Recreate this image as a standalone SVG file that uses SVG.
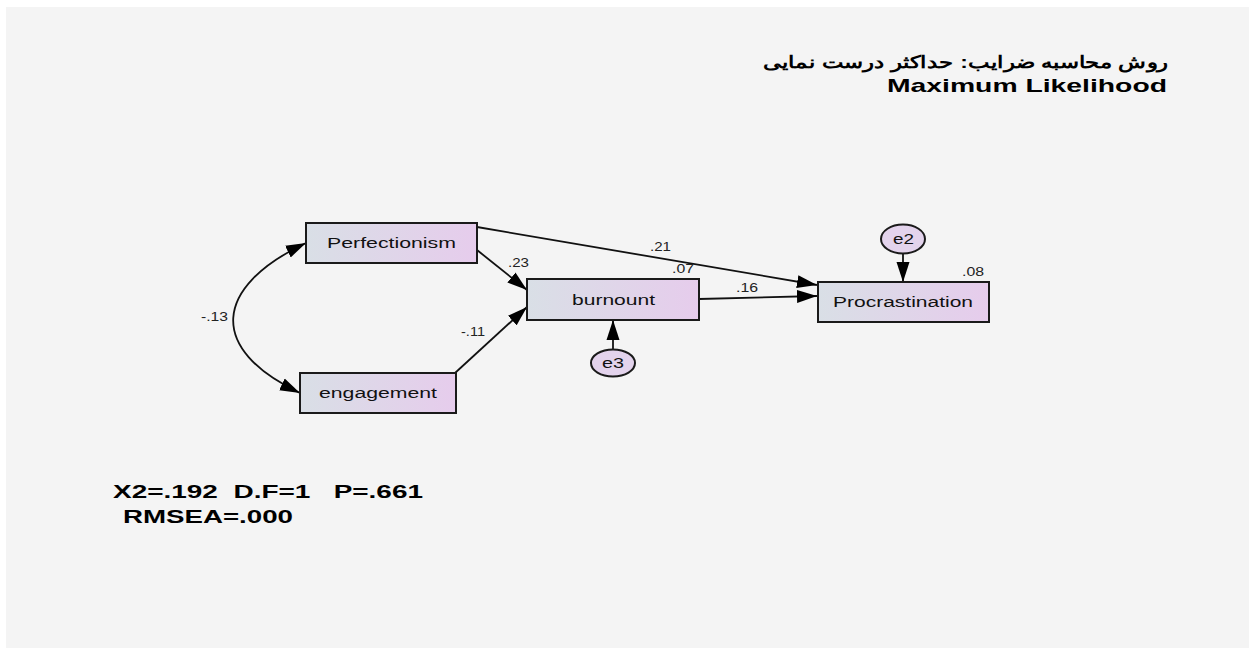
<svg xmlns="http://www.w3.org/2000/svg" width="1249" height="648" viewBox="0 0 1249 648">
<style>
.node{stroke:#1a1a1a;stroke-width:2;fill:url(#g)}
.err{stroke:#1a1a1a;stroke-width:2;fill:#e3d3ec}
.nt{font-family:"Liberation Sans",Arial,sans-serif;font-size:15.5px;fill:#111}
.lb{font-family:"Liberation Sans",Arial,sans-serif;font-size:12px;fill:#222}
.ed{stroke:#111;stroke-width:1.8;fill:none}
.bold{font-family:"Liberation Sans",Arial,sans-serif;font-weight:bold;fill:#000}
</style>
<defs>
<linearGradient id="g" x1="0" y1="0" x2="1" y2="0">
<stop offset="0" stop-color="#d9dfe6"/>
<stop offset="1" stop-color="#e6ccec"/>
</linearGradient>
<marker id="ah" markerUnits="userSpaceOnUse" markerWidth="21" markerHeight="14" refX="20" refY="7" orient="auto-start-reverse">
<path d="M0,0.5 L20,7 L0,13.5 z" fill="#000"/>
</marker>
</defs>
<rect x="0" y="0" width="1249" height="648" fill="#ffffff"/>
<rect x="6" y="7" width="1243" height="641" fill="#f4f4f4"/>

<text class="bold" x="763" y="68" font-size="17" font-family="'DejaVu Sans',sans-serif" textLength="405" lengthAdjust="spacingAndGlyphs">روش محاسبه ضرایب: حداکثر درست نمایی</text>
<text class="bold" x="887" y="92" font-size="19" textLength="280" lengthAdjust="spacingAndGlyphs">Maximum Likelihood</text>

<g id="connectors">
<path class="ed" d="M306,243 C213,287 207,349 300,393" marker-start="url(#ah)" marker-end="url(#ah)"/>
<line class="ed" x1="477" y1="227" x2="817" y2="285" marker-end="url(#ah)"/>
<line class="ed" x1="477" y1="250" x2="527" y2="290" marker-end="url(#ah)"/>
<line class="ed" x1="455" y1="373" x2="527" y2="307" marker-end="url(#ah)"/>
<line class="ed" x1="699" y1="299" x2="817" y2="296" marker-end="url(#ah)"/>
<line class="ed" x1="903" y1="253" x2="903" y2="282" marker-end="url(#ah)"/>
<line class="ed" x1="613" y1="350" x2="613" y2="320" marker-end="url(#ah)"/>
<text class="lb" x="650" y="251" textLength="21" lengthAdjust="spacingAndGlyphs">.21</text>
<text class="lb" x="508" y="267" textLength="21" lengthAdjust="spacingAndGlyphs">.23</text>
<text class="lb" x="461" y="336" textLength="24" lengthAdjust="spacingAndGlyphs">-.11</text>
<text class="lb" x="201" y="321" textLength="27" lengthAdjust="spacingAndGlyphs">-.13</text>
<text class="lb" x="736" y="292" textLength="22" lengthAdjust="spacingAndGlyphs">.16</text>
</g>

<g id="Perfectionism">
<rect class="node" x="306" y="223" width="171" height="40"/>
<text class="nt" x="327" y="248" textLength="129" lengthAdjust="spacingAndGlyphs">Perfectionism</text>
</g>
<g id="engagement">
<rect class="node" x="300" y="373" width="156" height="40"/>
<text class="nt" x="319" y="398" textLength="118" lengthAdjust="spacingAndGlyphs">engagement</text>
</g>
<g id="burnount">
<rect class="node" x="527" y="279" width="172" height="41"/>
<text class="nt" x="572" y="305" textLength="83" lengthAdjust="spacingAndGlyphs">burnount</text>
<text class="lb" x="672" y="273" textLength="22" lengthAdjust="spacingAndGlyphs">.07</text>
</g>
<g id="Procrastination">
<rect class="node" x="818" y="282" width="171" height="40"/>
<text class="nt" x="833" y="307" textLength="140" lengthAdjust="spacingAndGlyphs">Procrastination</text>
<text class="lb" x="962" y="276" textLength="22" lengthAdjust="spacingAndGlyphs">.08</text>
</g>
<g id="e2">
<ellipse class="err" cx="903" cy="239" rx="22" ry="14.5"/>
<text class="nt" x="893" y="244" textLength="21" lengthAdjust="spacingAndGlyphs">e2</text>
</g>
<g id="e3">
<ellipse class="err" cx="613" cy="363" rx="22" ry="13.5"/>
<text class="nt" x="602" y="368" textLength="22" lengthAdjust="spacingAndGlyphs">e3</text>
</g>

<text class="bold" x="113" y="498" font-size="17.5" textLength="310" lengthAdjust="spacingAndGlyphs" xml:space="preserve">X2=.192  D.F=1   P=.661</text>
<text class="bold" x="123" y="523" font-size="17.5" textLength="170" lengthAdjust="spacingAndGlyphs">RMSEA=.000</text>
</svg>
